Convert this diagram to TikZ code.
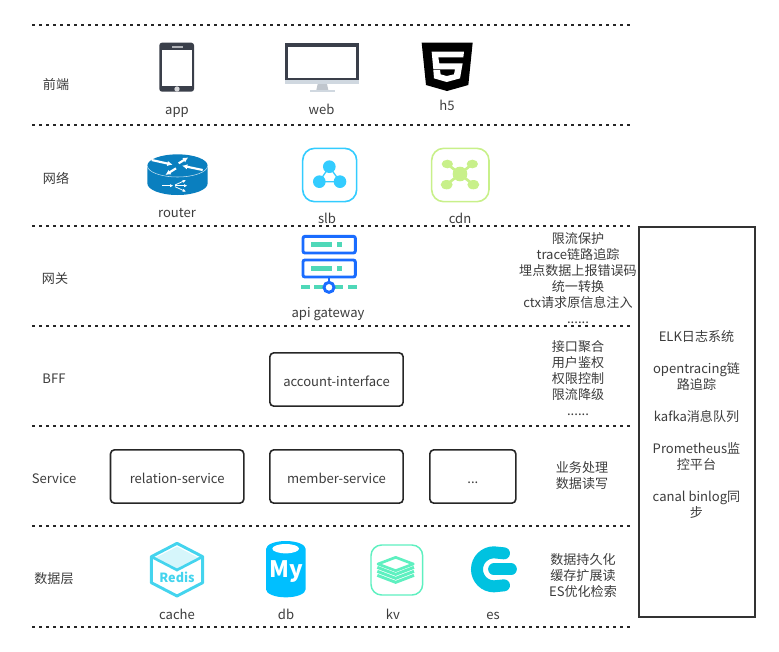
\documentclass[tikz,border=0pt]{standalone}
\usepackage{fontspec}
\usepackage{xcolor}
\setmainfont{Noto Sans CJK SC}
\usetikzlibrary{arrows.meta, positioning}
\definecolor{labelgray}{HTML}{3C3C3C}
\definecolor{phonegray}{HTML}{3A3F4A}
\definecolor{standgray}{HTML}{D0D8E0}
\definecolor{routerblue}{HTML}{0A7FBF}
\definecolor{slbblue}{HTML}{33CCFF}
\definecolor{cdngreen}{HTML}{C8F08A}
\definecolor{gateblue}{HTML}{1A6CFF}
\definecolor{gateteal}{HTML}{4FD8B8}
\definecolor{redisblue}{HTML}{44D4EE}
\definecolor{mysqlblue}{HTML}{00BFFF}
\definecolor{kvgreen}{HTML}{5EF0C0}
\definecolor{esblue}{HTML}{00C2E0}

\begin{document}
\begin{tikzpicture}[
    x=0.75pt, y=-0.75pt,
    every node/.style={text=labelgray, font=\fontsize{9.8pt}{12pt}\selectfont},
    sepline/.style={draw=black!85, line width=1.9pt, dash pattern=on 2.25pt off 3pt},
    layer/.style={anchor=center},
    icontext/.style={anchor=base, inner sep=0pt},
    notes/.style={align=center, anchor=center, inner sep=0pt},
    svcbox/.style={draw=black!85, line width=1.2pt, rounded corners=3pt, outer sep=0pt, minimum width=100pt, minimum height=40pt, inner sep=0pt, text height=10.2pt, text depth=0pt},
]
\useasboundingbox (0,0) rectangle (779,651);

% Layer separators
\draw[sepline] (32,25) -- (630,25);
\draw[sepline] (32,125) -- (630,125);
\draw[sepline] (32,226) -- (630,226);
\draw[sepline] (32,326) -- (630,326);
\draw[sepline] (32,426) -- (630,426);
\draw[sepline] (32,526) -- (630,526);
\draw[sepline] (32,627) -- (630,627);

% Layer names
\node[layer] (front) at (56,85) {前端};
\node[layer] (net) at (56,178) {网络};
\node[layer] (gateway) at (55,279) {网关};
\node[layer] (bff) at (54,379) {BFF};
\node[layer] (service) at (54,479) {Service};
\node[layer] (data) at (54,579) {数据层};

% Front end icons
\begin{scope}[shift={(130,20)}, scale=1/3]
  \fill[phonegray, rounded corners=2pt] (88,68) rectangle (192,215);
  \fill[white] (97,90) rectangle (186,198);
  \fill[white!80!phonegray] (141,207) circle (8);
  \fill[white!60!phonegray] (126,78) rectangle (158,83);
  \fill[phonegray] (466,68) rectangle (686,180);
  \fill[white] (475,80) rectangle (678,175);
  \fill[standgray] (466,180) rectangle (686,192);
  \fill[standgray!80!gray] (563,192) -- (591,192) -- (595,210) -- (559,210) -- cycle;
  \fill[standgray] (540,210) rectangle (614,216);
  \fill[black] (875,68) -- (1028,68) -- (1015,195) -- (951,213) -- (888,195) -- cycle;
  \fill[white] (905,95) -- (1002,95) -- (1000,112) -- (925,112) -- (928,130) -- (998,130) -- (990,175) -- (950,186) -- (912,175) -- (910,150) -- (930,150) -- (932,163) -- (950,168) -- (972,163) -- (975,148) -- (910,148) -- cycle;
\end{scope}
\node[icontext] (app) at (177,114) {app};
\node[icontext] (web) at (321.5,114) {web};
\node[icontext] (h5) at (447,110.5) {h5};

% Network icons
\begin{scope}[shift={(130,20)}, scale=1/3]
  \fill[routerblue] (52,437) -- (52,490) arc[start angle=180, end angle=0, x radius=90.5, y radius=35] -- (233,437) arc[start angle=0, end angle=-180, x radius=90.5, y radius=34] -- cycle;
  \draw[white!75!routerblue, line width=0.4pt] (52,437) arc[start angle=180, end angle=0, x radius=90.5, y radius=34];
  \draw[white, line width=1.6pt, -{Latex[length=4pt,width=4pt]}] (65,420) -- (128,434);
  \draw[white, line width=1.6pt, -{Latex[length=4pt,width=4pt]}] (146,430) -- (175,412);
  \draw[white, line width=1.6pt, -{Latex[length=4pt,width=4pt]}] (218,450) -- (156,437);
  \draw[white, line width=1.6pt, -{Latex[length=4pt,width=4pt]}] (138,445) -- (106,465);
  \draw[white, line width=0.6pt, -{Latex[length=2.5pt,width=2.5pt]}] (97,497) -- (130,497);
  \draw[white, line width=0.6pt, -{Latex[length=2.5pt,width=2.5pt]}] (135,495) -- (168,480);
  \draw[white, line width=0.6pt, -{Latex[length=2.5pt,width=2.5pt]}] (135,497) -- (172,497);
  \draw[white, line width=0.6pt, -{Latex[length=2.5pt,width=2.5pt]}] (135,500) -- (168,515);
  \draw[slbblue, line width=1.2pt, rounded corners=9pt] (518,385) rectangle (680,545);
  \draw[slbblue, line width=1pt] (598,440) -- (568,485) -- (630,485) -- cycle;
  \fill[slbblue] (598,440) circle (19);
  \fill[slbblue] (568,485) circle (19);
  \fill[slbblue] (630,485) circle (19);
  \draw[cdngreen, line width=1.2pt, rounded corners=9pt] (905,385) rectangle (1077,545);
  \draw[cdngreen, line width=2pt] (952,432) -- (1030,494);
  \draw[cdngreen, line width=2pt] (1027,432) -- (950,494);
  \fill[cdngreen] (990,462) circle (22);
  \fill[cdngreen] (952,432) ellipse (17 and 13);
  \fill[cdngreen] (1027,432) ellipse (17 and 13);
  \fill[cdngreen] (950,494) ellipse (18 and 14);
  \fill[cdngreen] (1030,494) ellipse (18 and 14);
\end{scope}
\node[icontext] (router) at (177,217) {router};
\node[icontext] (slb) at (327,223) {slb};
\node[icontext] (cdn) at (460,223) {cdn};

% Gateway icon
\begin{scope}[shift={(270,225)}, scale=1/3]
  \draw[gateblue, line width=2.2pt, rounded corners=1.5pt] (99,34) rectangle (256,84);
  \draw[gateblue, line width=2.2pt, rounded corners=1.5pt] (99,105) rectangle (256,156);
  \fill[gateteal] (122,52) rectangle (185,66);
  \fill[gateteal] (200,52) rectangle (217,66);
  \fill[gateteal] (122,123) rectangle (185,137);
  \fill[gateteal] (200,123) rectangle (217,137);
  \fill[gateteal] (93,181) rectangle (120,193);
  \fill[gateteal] (133,181) rectangle (160,193);
  \fill[gateteal] (195,181) rectangle (220,193);
  \fill[gateteal] (233,181) rectangle (260,193);
  \draw[gateblue, line width=2.2pt] (177,156) -- (177,175);
  \draw[gateblue, line width=2.2pt, fill=white] (177,187) circle (15);
\end{scope}
\node[icontext] (apigw) at (328,317) {api gateway};

% Gateway and BFF notes
\node[notes] (gwnotes) at (578,278.5) {限流保护\\trace链路追踪\\埋点数据上报错误码\\统一转换\\ctx请求原信息注入\\......};
\node[notes] (bffnotes) at (578,378) {接口聚合\\用户鉴权\\权限控制\\限流降级\\......};

% Service boxes
\node[svcbox] (account) at (336.5,379.5) {account-interface};
\node[svcbox] (member) at (336.5,476.5) {member-service};
\node[svcbox, left=19.5pt of member] (relation) {relation-service};
\node[svcbox, minimum width=64.5pt, right=20pt of member] (more) {...};
\node[notes] (svcnotes) at (582,476) {业务处理\\数据读写};

% Data icons
\begin{scope}[shift={(130,530)}, scale=1/3]
  \fill[redisblue!22] (141,50) -- (207,84) -- (141,118) -- (75,84) -- cycle;
  \draw[redisblue, line width=2.2pt, line join=round] (141,40) -- (218,80) -- (218,158) -- (141,198) -- (64,158) -- (64,80) -- cycle;
  \draw[redisblue, line width=2pt] (64,80) -- (141,120) -- (218,80);
  \fill[mysqlblue] (408,57) arc[start angle=180, end angle=360, x radius=59.5, y radius=24] -- (527,178) arc[start angle=0, end angle=180, x radius=59.5, y radius=24] -- cycle;
  \fill[white] (467,56) ellipse (40 and 14);
  \draw[kvgreen, line width=1.1pt, rounded corners=8pt] (723,45) rectangle (878,195);
  \draw[kvgreen, line width=2pt, fill=white, line join=round] (797,82) -- (850,102) -- (797,122) -- (744,102) -- cycle;
  \draw[kvgreen, line width=2.2pt] (742,112) -- (797,133) -- (852,112);
  \draw[kvgreen, line width=2.2pt] (742,124) -- (797,145) -- (852,124);
  \draw[kvgreen, line width=2.2pt] (742,136) -- (797,157) -- (852,136);
  \draw[esblue, line width=9pt, line cap=round] (1122,70) -- (1092,67) arc[start angle=-90, end angle=-270, radius=51] -- (1122,166);
  \draw[esblue, line width=8.8pt, line cap=round] (1092,118) -- (1143,118);
\end{scope}
\node[font=\fontsize{9.5pt}{10pt}\selectfont\bfseries, text=redisblue, inner sep=0pt] (redis) at (177,577) {Redis};
\node[font=\fontsize{17pt}{18pt}\selectfont\bfseries, text=white, inner sep=0pt] (mysql) at (286,572) {My};
\node[icontext] (cache) at (177,619) {cache};
\node[icontext] (db) at (286,619) {db};
\node[icontext] (kv) at (393,619) {kv};
\node[icontext] (es) at (493,619) {es};
\node[notes] (datanotes) at (583,576) {数据持久化\\缓存扩展读\\ES优化检索};

% Side column
\node[draw=black!80, line width=1.5pt, minimum width=87pt, minimum height=293pt, inner sep=0pt] (side) at (696.5,422) {};
\node[notes] (sidenotes) at (696.5,424.5) {ELK日志系统\\[12pt]opentracing链\\路追踪\\[12pt]kafka消息队列\\[12pt]Prometheus监\\控平台\\[12pt]canal binlog同\\步};

\end{tikzpicture}
\end{document}
